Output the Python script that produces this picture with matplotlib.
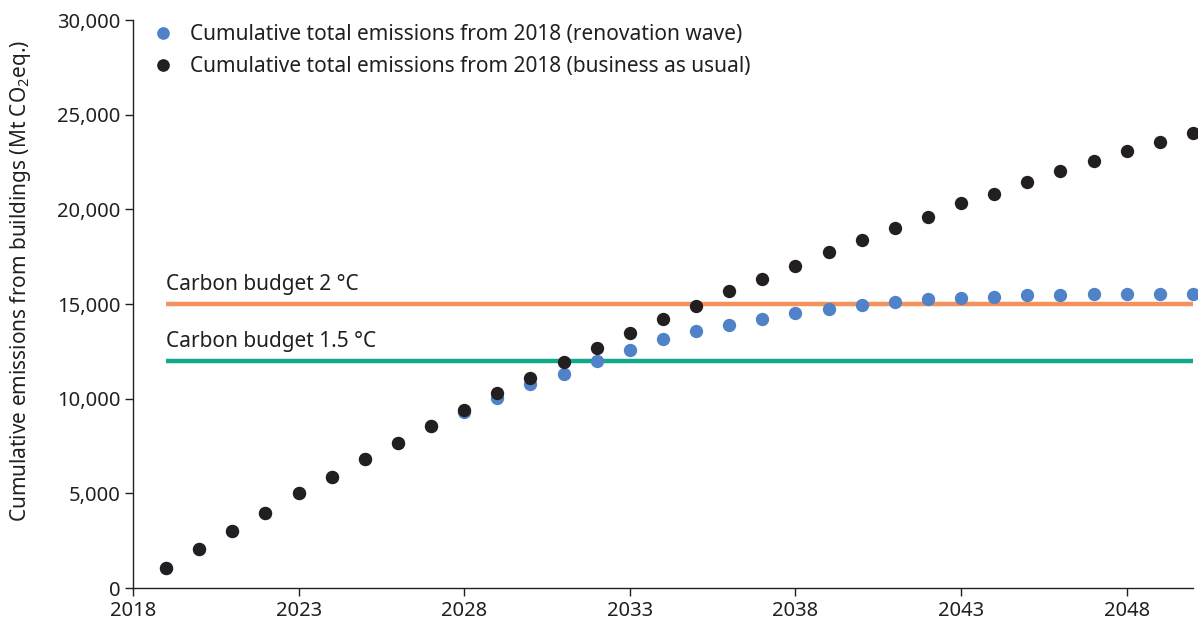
import matplotlib
matplotlib.use("Agg")
import matplotlib.pyplot as plt
from matplotlib.ticker import FuncFormatter

plt.rcParams['font.family'] = ['Noto Sans', 'DejaVu Sans']
plt.rcParams['mathtext.fontset'] = 'custom'
plt.rcParams['mathtext.rm'] = 'Noto Sans'
plt.rcParams['mathtext.it'] = 'Noto Sans'

years = list(range(2019, 2051))
bau = [1060, 2060, 3010, 3960, 5000, 5860, 6810, 7660, 8560, 9400,
       10280, 11090, 11920, 12680, 13470, 14210, 14920, 15690, 16320, 17010,
       17770, 18380, 19020, 19620, 20340, 20810, 21420, 22030, 22560, 23080,
       23560, 24040]
renovation = [1060, 2060, 3010, 3960, 5000, 5860, 6810, 7660, 8560, 9300,
              10010, 10800, 11300, 11990, 12570, 13150, 13580, 13890, 14210, 14530,
              14740, 14950, 15110, 15270, 15320, 15370, 15460, 15480, 15530, 15530,
              15530, 15530]
budget_2c = 15000
budget_15c = 12000
budget_start, budget_end = 2019, 2050

label_reno = "Cumulative total emissions from 2018 (renovation wave)"
label_bau = "Cumulative total emissions from 2018 (business as usual)"
label_2c = "Carbon budget 2 °C"
label_15c = "Carbon budget 1.5 °C"
ylabel = "Cumulative emissions from buildings (Mt CO$_2$eq.)"
xticks = [2018, 2023, 2028, 2033, 2038, 2043, 2048]
yticks = [0, 5000, 10000, 15000, 20000, 25000, 30000]

text_col = '#231f20'
blue = '#4f82c6'
black = '#231f20'
orange = '#f4915c'
green = '#10a98a'
fs = 15

fig = plt.figure(figsize=(11.98, 6.2), dpi=100)
ax = fig.add_axes([0.111, 0.0516, 0.8848, 0.9161])

ax.plot([budget_start, budget_end], [budget_2c, budget_2c], color=orange, lw=3.2, solid_capstyle='butt', zorder=2)
ax.plot([budget_start, budget_end], [budget_15c, budget_15c], color=green, lw=3.2, solid_capstyle='butt', zorder=2)

ax.plot(years, renovation, 'o', ms=9.6, color=blue, mec='none', label=label_reno, zorder=3, clip_on=False)
ax.plot(years, bau, 'o', ms=9.6, color=black, mec='none', label=label_bau, zorder=4, clip_on=False)

ax.text(budget_start, budget_2c + 720, label_2c, fontsize=fs, color=text_col, ha='left', va='baseline')
ax.text(budget_start, budget_15c + 720, label_15c, fontsize=fs, color=text_col, ha='left', va='baseline')

ax.set_xlim(2018, 2050)
ax.set_ylim(0, 30000)
ax.set_xticks(xticks)
ax.set_yticks(yticks)
ax.yaxis.set_major_formatter(FuncFormatter(lambda v, p: f"{int(v):,}"))
ax.tick_params(axis='both', direction='out', length=6, width=1, color=text_col,
               labelsize=14.5, labelcolor=text_col, pad=3)
ax.set_ylabel(ylabel, fontsize=fs, color=text_col)
ax.yaxis.set_label_coords(-0.0943, 0.54)

for s in ['top', 'right']:
    ax.spines[s].set_visible(False)
for s in ['left', 'bottom']:
    ax.spines[s].set_color(text_col)
    ax.spines[s].set_linewidth(1)

leg = ax.legend(loc='upper left', bbox_to_anchor=(0.0107, 1.007), frameon=False, fontsize=fs,
                handletextpad=0.8, labelspacing=0.5, borderaxespad=0.0, handlelength=1.0,
                markerscale=0.95)
for t in leg.get_texts():
    t.set_color(text_col)

fig.savefig('out.png', dpi=100)
